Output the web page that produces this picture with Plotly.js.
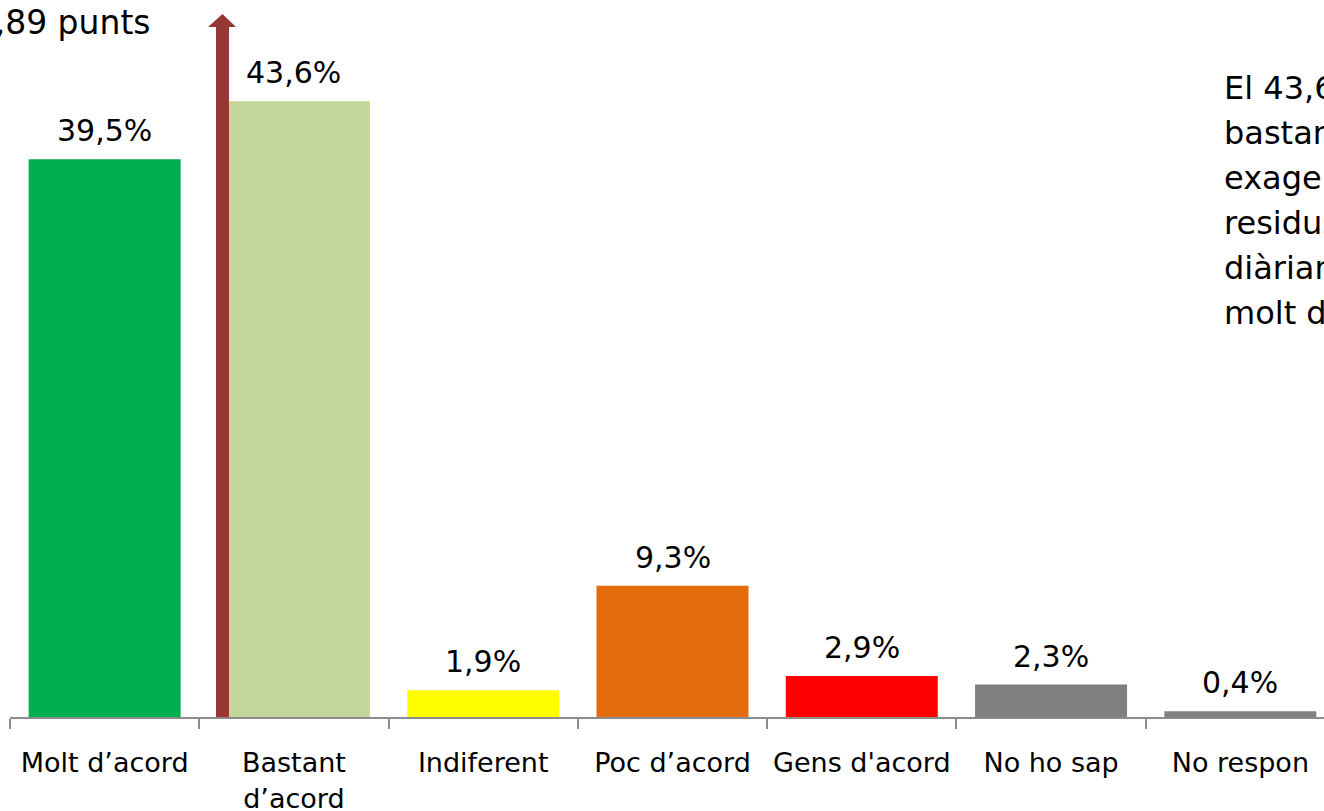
<!DOCTYPE html>
<html>
<head>
<meta charset="utf-8">
<script src="https://cdn.plot.ly/plotly-3.0.1.min.js"></script>
<style>
html,body{margin:0;padding:0;overflow:hidden;background:#fff;width:1324px;height:811px;}
#chart{width:1600px;height:811px;}
</style>
</head>
<body>
<div id="chart"></div>
<script>
var categories = ["Molt d\u2019acord", "Bastant<br>d\u2019acord", "Indiferent", "Poc d\u2019acord", "Gens d'acord", "No ho sap", "No respon"];
var values = [39.5, 43.6, 1.9, 9.3, 2.9, 2.3, 0.4];
var valueLabels = ["39,5%", "43,6%", "1,9%", "9,3%", "2,9%", "2,3%", "0,4%"];
var barColors = ["#00B050", "#C4D79B", "#FFFF00", "#E46C0A", "#FF0000", "#808080", "#808080"];
var noteLeft = "+3,89 punts";
var noteRightLines = ["El 43,6% est\u00e0", "bastant d'acord", "exagerada de", "residus que es", "di\u00e0riament i el", "molt d'acord"];

var FONT = "DejaVu Sans, Verdana, sans-serif";
var W = 1600, H = 811;
var ML = 10, PW = 1325, MB = 94, MT = 11;
var PH = H - MT - MB;
function px2x(p){ return (p - ML) / PW; }
function py2y(p){ return (H - MB - p) / PH; }

var trace = {
  type: "bar",
  x: categories,
  y: values,
  marker: {color: barColors},
  hoverinfo: "none"
};

var annotations = values.map(function(v, i){
  return {
    x: categories[i], y: v, xref: "x", yref: "y",
    text: valueLabels[i], showarrow: false,
    xanchor: "center", yanchor: "bottom", yshift: 9,
    font: {family: FONT, size: 30, color: "#000"}
  };
});
annotations.push({
  x: px2x(153), y: py2y(22), xref: "paper", yref: "paper",
  text: noteLeft, showarrow: false, xanchor: "right", yanchor: "middle",
  font: {family: FONT, size: 33, color: "#000"}
});
noteRightLines.forEach(function(t, i){
  annotations.push({
    x: px2x(1222), y: py2y(88 + 45 * i), xref: "paper", yref: "paper",
    text: t, showarrow: false, xanchor: "left", yanchor: "middle", align: "left",
    font: {family: FONT, size: 32, color: "#000"}
  });
});

var arrowColor = "#953735";
var shapes = [
  {type: "rect", xref: "paper", yref: "paper",
   x0: px2x(216), x1: px2x(229), y0: py2y(717), y1: py2y(26),
   fillcolor: arrowColor, line: {width: 0}, layer: "above"},
  {type: "path", xref: "paper", yref: "paper",
   path: "M " + px2x(208) + " " + py2y(27) + " L " + px2x(236) + " " + py2y(27) + " L " + px2x(222.5) + " " + py2y(14) + " Z",
   fillcolor: arrowColor, line: {width: 0}, layer: "above"}
];

var layout = {
  width: W, height: H,
  margin: {l: ML, r: W - ML - PW, t: MT, b: MB, pad: 0},
  paper_bgcolor: "#fff", plot_bgcolor: "#fff",
  bargap: 0.197,
  showlegend: false,
  xaxis: {
    type: "category",
    showline: true, linecolor: "#8c8c8c", linewidth: 2,
    ticks: "outside", tickson: "boundaries", ticklen: 10, tickwidth: 2, tickcolor: "#8c8c8c",
    tickfont: {family: FONT, size: 27, color: "#000"},
    showgrid: false, zeroline: false, fixedrange: true,
    ticklabelstandoff: 21
  },
  yaxis: {
    range: [0, 50], visible: false, showgrid: false, zeroline: false, fixedrange: true
  },
  annotations: annotations,
  shapes: shapes
};

Plotly.newPlot("chart", [trace], layout, {displayModeBar: false, staticPlot: true});
</script>
</body>
</html>
